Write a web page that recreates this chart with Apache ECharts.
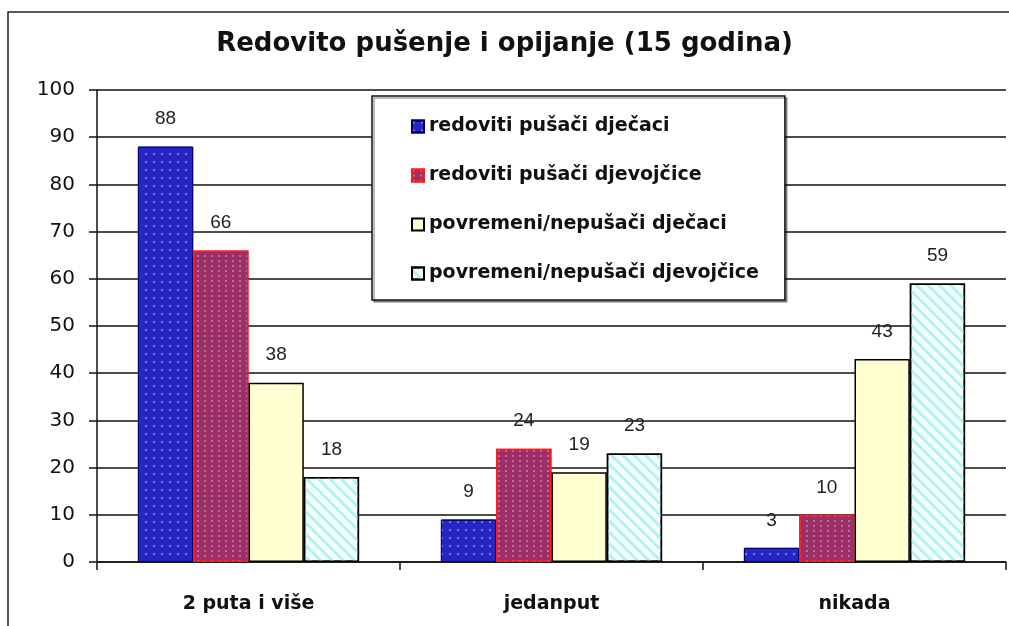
<!DOCTYPE html>
<html><head><meta charset="utf-8">
<script src="https://cdn.jsdelivr.net/npm/echarts@6/dist/echarts.min.js"></script>
<style>html,body{margin:0;padding:0;background:#fff}#c{width:1009px;height:626px}</style>
</head><body><div id="c"></div>
<script>
const categories = ['2 puta i više', 'jedanput', 'nikada'];
const seriesNames = ['redoviti pušači dječaci', 'redoviti pušači djevojčice', 'povremeni/nepušači dječaci', 'povremeni/nepušači djevojčice'];
const boysRegular = [88, 9, 3];
const girlsRegular = [66, 24, 10];
const boysOccasional = [38, 19, 43];
const girlsOccasional = [18, 23, 59];
const yTicks = [0, 10, 20, 30, 40, 50, 60, 70, 80, 90, 100];

const FONT = '"DejaVu Sans", sans-serif';
const styles = [
  {color: '#2626c4', borderColor: '#000070', borderWidth: 1,
   decal: {symbol: 'diamond', symbolSize: 0.6, dashArrayX: 4, dashArrayY: 4, color: 'rgba(255,255,255,0.55)'}},
  {color: '#9c2f68', borderColor: '#ff1a1a', borderWidth: 1.5,
   decal: {symbol: 'rect', symbolSize: 0.5, dashArrayX: [[4, 3]], dashArrayY: [2, 3], color: 'rgba(255,255,255,0.6)'}},
  {color: '#ffffd2', borderColor: '#000', borderWidth: 1.5},
  {color: '#f4ffff', borderColor: '#000', borderWidth: 1.5,
   decal: {symbol: 'rect', symbolSize: 1, dashArrayX: [1, 0], dashArrayY: [3, 5], rotation: Math.PI / 4, color: '#b6f2ec'}}
];
const dataSets = [boysRegular, girlsRegular, boysOccasional, girlsOccasional];

const chart = echarts.init(document.getElementById('c'), null, {renderer: 'canvas'});
chart.setOption({
  animation: false,
  backgroundColor: '#fff',
  title: {
    text: 'Redovito pušenje i opijanje (15 godina)',
    left: 'center', top: 26,
    textStyle: {fontFamily: FONT, fontSize: 26, fontWeight: 'bold', color: '#111'}
  },
  graphic: [{
    type: 'rect', shape: {x: 8, y: 12, width: 1030, height: 640},
    style: {fill: 'none', stroke: '#222', lineWidth: 1.5}, z: -1
  }],
  legend: {
    orient: 'vertical', left: 372, top: 96,
    padding: [21, 26, 17, 39], itemGap: 30,
    itemWidth: 12, itemHeight: 12, icon: 'rect',
    backgroundColor: '#fff', borderColor: '#111', borderWidth: 1.5,
    shadowColor: 'rgba(0,0,0,0.35)', shadowOffsetX: 2, shadowOffsetY: 2, shadowBlur: 0,
    textStyle: {fontFamily: FONT, fontSize: 19, fontWeight: 'bold', color: '#111', width: 346, overflow: 'none'},
    data: seriesNames
  },
  grid: {left: 97, right: 3, top: 90, bottom: 64, containLabel: false},
  xAxis: {
    type: 'category', data: categories,
    axisLine: {lineStyle: {color: '#111', width: 1.5}},
    axisTick: {show: true, length: 8, lineStyle: {color: '#111', width: 1.5}},
    axisLabel: {fontFamily: FONT, fontSize: 19, fontWeight: 'bold', color: '#111', margin: 33}
  },
  yAxis: {
    type: 'value', min: yTicks[0], max: yTicks[yTicks.length - 1], interval: 10,
    axisLine: {show: true, lineStyle: {color: '#111', width: 1.5}},
    axisTick: {show: true, length: 8, lineStyle: {color: '#111', width: 1.5}},
    axisLabel: {fontFamily: FONT, fontSize: 20, color: '#111', margin: 22},
    splitLine: {lineStyle: {color: '#111', width: 1.5}}
  },
  series: seriesNames.map((n, i) => ({
    name: n, type: 'bar', data: dataSets[i],
    barGap: '0%', barCategoryGap: '27%',
    itemStyle: styles[i],
    label: {show: true, position: 'top', distance: 18, fontFamily: '"Liberation Sans", Arial, sans-serif', fontSize: 19, color: '#222'}
  }))
});
</script></body></html>
